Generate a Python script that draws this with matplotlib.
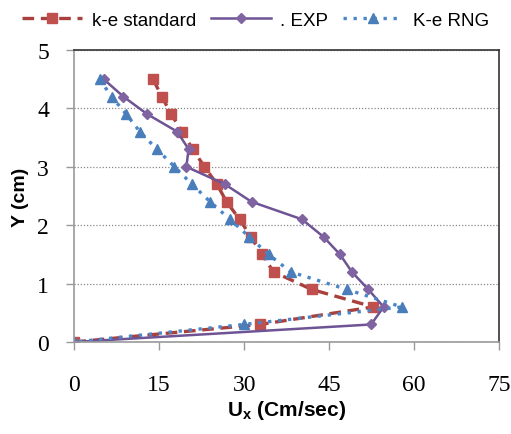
import matplotlib.pyplot as plt

# velocity profiles, U_x (cm/s) vs Y (cm)
y_std = [4.5, 4.2, 3.9, 3.6, 3.3, 3.0, 2.7, 2.4, 2.1, 1.8, 1.5, 1.2, 0.9, 0.6, 0.3, 0.0]
u_std = [13.9, 15.5, 17.1, 19.1, 20.9, 23.0, 25.2, 26.9, 29.2, 31.2, 33.1, 35.2, 41.9, 52.8, 32.8, 0.0]

y_exp = [4.5, 4.2, 3.9, 3.6, 3.3, 3.0, 2.7, 2.4, 2.1, 1.8, 1.5, 1.2, 0.9, 0.6, 0.3, 0.0]
u_exp = [5.2, 8.7, 12.9, 18.2, 20.2, 19.8, 26.6, 31.3, 40.2, 44.0, 46.9, 49.0, 51.9, 54.6, 52.4, 0.0]

y_rng = [4.5, 4.2, 3.9, 3.6, 3.3, 3.0, 2.7, 2.4, 2.1, 1.8, 1.5, 1.2, 0.9, 0.6, 0.3, 0.0]
u_rng = [4.5, 6.6, 9.2, 11.6, 14.6, 17.7, 20.8, 24.0, 27.5, 30.9, 34.3, 38.2, 48.1, 57.8, 29.9, 0.0]

fig = plt.figure(figsize=(5.11, 4.35), dpi=100)
ax = fig.add_axes([0.145, 0.2115, 0.832, 0.6715])

l1, = ax.plot(u_std, y_std, color='#A8403D', ls=(0, (3.5, 2)), lw=2.4,
              marker='s', ms=7, mfc='#C0504D', mec='#C0504D', label='k-e standard')
l2, = ax.plot(u_exp, y_exp, color='#6E5494', ls='-', lw=1.8,
              marker='D', ms=5, mfc='#8064A2', mec='#8064A2', label='. EXP')
l3, = ax.plot(u_rng, y_rng, color='#4A86C8', ls=(0, (1, 2)), lw=2.4,
              marker='^', ms=7, mfc='#4A7EBB', mec='#4A7EBB', label='K-e RNG')

ax.set_xlim(0, 75)
ax.set_ylim(0, 5)
ax.set_xticks([0, 15, 30, 45, 60, 75])
ax.set_yticks([0, 1, 2, 3, 4, 5])
ax.yaxis.grid(True, ls=(0, (1, 1.5)), color='#888888', lw=0.9)
ax.set_axisbelow(True)

for s in ['left', 'bottom']:
    ax.spines[s].set_color('#999999')
    ax.spines[s].set_linewidth(1.2)
for s in ['top', 'right']:
    ax.spines[s].set_color('#333333')
    ax.spines[s].set_linewidth(1.2)

ax.tick_params(axis='both', direction='out', length=6, width=1, color='#999999',
               labelsize=17)
for lab in ax.get_xticklabels() + ax.get_yticklabels():
    lab.set_fontfamily('Liberation Serif')
ax.tick_params(axis='y', pad=12)
ax.tick_params(axis='x', pad=17)

ax.set_xlabel(r'U$_{\mathregular{x}}$ (Cm/sec)', fontsize=15, fontweight='bold',
              family='Liberation Sans', labelpad=2)
ax.set_ylabel('Y (cm)', fontsize=14, fontweight='bold', family='Liberation Sans')
ax.yaxis.set_label_coords(-0.105, 0.5)

fig.legend(handles=[l1, l2, l3], loc='upper center', bbox_to_anchor=(0.5, 1.01),
           ncol=3, frameon=False, handlelength=3.2, columnspacing=0.8,
           handletextpad=0.5, prop={'family': 'Liberation Sans', 'size': 13.5})

fig.savefig('out.png', dpi=100)
